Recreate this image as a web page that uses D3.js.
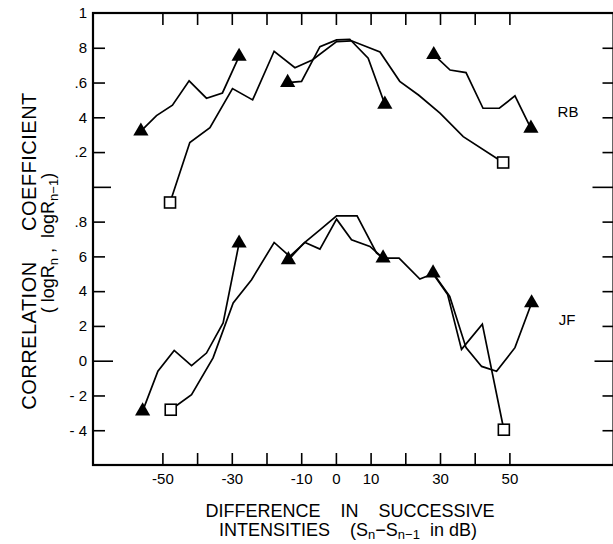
<!DOCTYPE html>
<html>
<head>
<meta charset="utf-8">
<script src="https://cdn.jsdelivr.net/npm/d3@7"></script>
<style>
  body { margin: 0; background: #fff; }
  svg { display: block; }
  text { font-family: "Liberation Sans", Arial, sans-serif; fill: #000; }
</style>
</head>
<body>
<div id="chart"></div>
<script>
// dB difference, correlation coefficient (RB panel values are its own 0..1 scale)
var rbA = [[-56.2, 0.32], [-51.7, 0.41], [-47.1, 0.47], [-42.3, 0.61], [-37.3, 0.51], [-32.7, 0.54], [-27.9, 0.75]];
var rbB = [[-47.8, -0.09], [-42.1, 0.255], [-36.3, 0.34], [-29.8, 0.565], [-24.0, 0.50], [-17.8, 0.78], [-11.8, 0.685],
  [-6.8, 0.73], [0.2, 0.835], [4.5, 0.84], [12.7, 0.776], [18.4, 0.607], [23.9, 0.527], [30.0, 0.424], [36.7, 0.289], [48.2, 0.14]];
var rbC = [[-13.9, 0.60], [-9.9, 0.607], [-4.6, 0.806], [0.2, 0.845], [4.0, 0.849], [9.3, 0.74], [14.1, 0.475]];
var rbD = [[28.2, 0.76], [32.9, 0.672], [37.5, 0.657], [42.4, 0.452], [47.1, 0.452], [51.6, 0.523], [56.2, 0.337]];

var jfE = [[-55.7, -0.29], [-51.3, -0.061], [-46.6, 0.059], [-41.6, -0.029], [-37.3, 0.044], [-32.5, 0.217], [-27.9, 0.676]];
var jfF = [[-47.6, -0.282], [-41.6, -0.195], [-35.4, 0.016], [-29.6, 0.332], [-24.3, 0.466], [-17.8, 0.68], [-13.3, 0.60],
  [-8.9, 0.68], [-4.6, 0.642], [0.2, 0.814], [4.5, 0.695], [9.8, 0.657], [13.6, 0.59], [18.2, 0.59], [24.2, 0.47],
  [28.0, 0.50], [32.2, 0.38], [36.2, 0.065], [42.2, 0.21], [48.4, -0.397]];
var jfG = [[-13.7, 0.58], [-9.3, 0.675], [-4.6, 0.753], [0.2, 0.833], [6.1, 0.833], [11.7, 0.62], [13.6, 0.59]];
var jfH = [[28.0, 0.504], [32.8, 0.37], [37.5, 0.075], [42.0, -0.033], [46.3, -0.061], [51.6, 0.075], [56.4, 0.332]];

// tick values on the shared y scale (RB panel is shifted up by 1)
var yTicks = [2.0, 1.8, 1.6, 1.4, 1.2, 1.0, 0.8, 0.6, 0.4, 0.2, 0, -0.2, -0.4];
var yTickLabels = ["1", "8", ".6", "4", ".2", "", ".8", "6", "4", "2", "0", "- 2", "- 4"];
var xTicks = [-50, -40, -30, -20, -10, 0, 10, 20, 30, 40, 50];
var xTickLabels = ["-50", "", "-30", "", "-10", "0", "10", "", "30", "", "50"];

var width = 613, height = 544;

var x = d3.scaleLinear().domain([-70, 80]).range([93, 613.5]);
var y = d3.scaleLinear().domain([-0.6, 2.0]).range([465, 13]);

var svg = d3.select("#chart").append("svg")
    .attr("width", width)
    .attr("height", height)

// frame
svg.append("rect")
    .attr("x", x(-70)).attr("y", y(2.0))
    .attr("width", x(80) - x(-70)).attr("height", y(-0.6) - y(2.0))
    .attr("fill", "none").attr("stroke", "#000").attr("stroke-width", 2.2)

var yAxis = d3.axisLeft(y)
    .tickValues(yTicks)
    .tickFormat(function (d, i) { return yTickLabels[i]; })
    .tickSizeInner(-12).tickSizeOuter(0).tickPadding(6);
var gy = svg.append("g").attr("transform", "translate(" + x(-70) + ",0)").call(yAxis);
gy.select(".domain").remove();
gy.selectAll("text").attr("font-size", 15);
gy.selectAll("line").attr("stroke-width", 1.6)
    .attr("x2", function (d) { return d === 1.0 ? 18 : (d === 0 ? 20 : 12); });
gy.selectAll(".tick").filter(function (d) { return d === 2.0; }).select("line").remove();

var yAxisR = d3.axisRight(y)
    .tickValues(yTicks.filter(function (d) { return d !== 2.0; }))
    .tickFormat("")
    .tickSizeInner(-11).tickSizeOuter(0);
var gr = svg.append("g").attr("transform", "translate(" + x(80) + ",0)").call(yAxisR);
gr.select(".domain").remove();
gr.selectAll("line").attr("stroke-width", 1.6)
    .attr("x2", function (d) { return d === 1.0 ? -21 : (d === 0 ? -19 : -11); });

var xAxis = d3.axisBottom(x)
    .tickValues(xTicks)
    .tickFormat(function (d, i) { return xTickLabels[i]; })
    .tickSizeInner(-12).tickSizeOuter(0).tickPadding(8);
var gx = svg.append("g").attr("transform", "translate(0," + y(-0.6) + ")").call(xAxis);
gx.select(".domain").remove();
gx.selectAll("text").attr("font-size", 15);
gx.selectAll("line").attr("stroke-width", 1.6);

var xAxisT = d3.axisTop(x).tickValues(xTicks).tickFormat("").tickSizeInner(-12).tickSizeOuter(0);
var gt = svg.append("g").attr("transform", "translate(0," + y(2.0) + ")").call(xAxisT);
gt.select(".domain").remove();
gt.selectAll("line").attr("stroke-width", 1.6);

// series
var series = [
    { data: rbA, off: 1, start: "tri", end: "tri" },
    { data: rbB, off: 1, start: "sq", end: "sq" },
    { data: rbC, off: 1, start: "tri", end: "tri" },
    { data: rbD, off: 1, start: "tri", end: "tri" },
    { data: jfE, off: 0, start: "tri", end: "tri" },
    { data: jfF, off: 0, start: "sq", end: "sq" },
    { data: jfG, off: 0, start: "tri", end: "tri" },
    { data: jfH, off: 0, start: "tri", end: "tri" }
];

var line = d3.line()
    .x(function (d) { return x(d[0]); })
    .y(function (d) { return y(d[1] + d.off); });

series.forEach(function (s) {
    var pts = s.data.map(function (d) { var p = [d[0], d[1]]; p.off = s.off; return p; });
    svg.append("path")
        .attr("d", line(pts))
        .attr("fill", "none")
        .attr("stroke", "#000")
        .attr("stroke-width", 1.7)
        .attr("stroke-linejoin", "miter");

    var ends = [[pts[0], s.start], [pts[pts.length - 1], s.end]];
    ends.forEach(function (e) {
        var p = e[0];
        var cx = x(p[0]), cy = y(p[1] + p.off);
        if (e[1] === "tri") {
            svg.append("path")
                .attr("d", d3.symbol().type(d3.symbolTriangle).size(100)())
                .attr("transform", "translate(" + cx + "," + cy + ")")
                .attr("fill", "#000");
        } else {
            svg.append("rect")
                .attr("x", cx - 5.5).attr("y", cy - 5.5)
                .attr("width", 11).attr("height", 11)
                .attr("fill", "#fff").attr("stroke", "#000").attr("stroke-width", 1.6);
        }
    });
});

// panel labels
svg.append("text").attr("x", 568).attr("y", 112).attr("dy", "0.35em")
    .attr("text-anchor", "middle").attr("font-size", 15).text("RB");
svg.append("text").attr("x", 567).attr("y", 320).attr("dy", "0.35em")
    .attr("text-anchor", "middle").attr("font-size", 15).text("JF");

// x title
svg.append("text").attr("text-anchor", "middle").attr("font-size", 18)
    .attr("x", 350).attr("y", 517).style("white-space", "pre")
    .text("DIFFERENCE    IN    SUCCESSIVE");
var xt2 = svg.append("text").attr("text-anchor", "middle").attr("font-size", 18)
    .attr("x", 348).attr("y", 536).style("white-space", "pre");
xt2.append("tspan").text("INTENSITIES    (S");
xt2.append("tspan").attr("font-size", 13).attr("dy", 3).text("n");
xt2.append("tspan").attr("dy", -3).text("\u2212S");
xt2.append("tspan").attr("font-size", 13).attr("dy", 3).text("n\u22121");
xt2.append("tspan").attr("dy", -3).text("  in dB)");

// y title
svg.append("text").attr("text-anchor", "middle").attr("font-size", 20)
    .attr("letter-spacing", 0.5)
    .attr("transform", "translate(36,251) rotate(-90)").style("white-space", "pre")
    .text("CORRELATION     COEFFICIENT");
var yt2 = svg.append("text").attr("text-anchor", "middle").attr("font-size", 18)
    .attr("transform", "translate(54,243) rotate(-90)").style("white-space", "pre");
yt2.append("tspan").text("( logR");
yt2.append("tspan").attr("font-size", 13).attr("dy", 4).text("n");
yt2.append("tspan").attr("dy", -4).text(" ,  logR");
yt2.append("tspan").attr("font-size", 13).attr("dy", 4).text("n\u22121");
yt2.append("tspan").attr("dy", -4).text(")");
</script>
</body>
</html>
